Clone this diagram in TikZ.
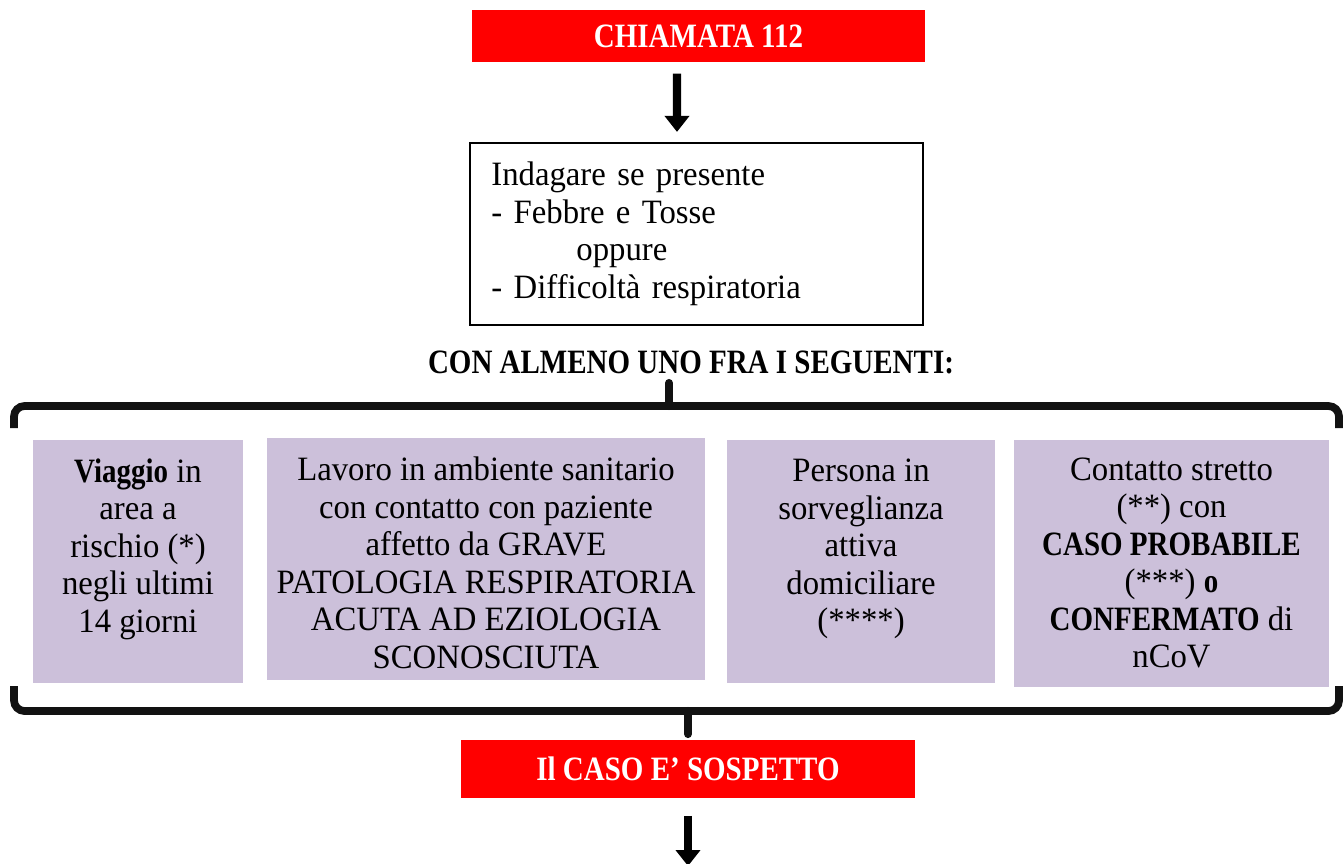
\documentclass[tikz,border=0pt]{standalone}
\usepackage{fontspec}
\setmainfont{Liberation Serif}[UprightFeatures={FakeStretch=0.96},BoldFeatures={FakeStretch=0.85}]
\usetikzlibrary{arrows.meta}
\definecolor{lilac}{RGB}{204,192,218}
\definecolor{alarm}{RGB}{255,0,0}
\newcommand{\bodyfont}{\fontsize{9.7}{10.67}\selectfont}
\begin{document}
\begin{tikzpicture}[x=0.01cm,y=-0.01cm,font=\bodyfont]
        		\tikzstyle{alert}=[fill=alarm,text=white,font=\bodyfont\bfseries,minimum width=4.53cm,minimum height=0.52cm,inner sep=0pt]
        		\tikzstyle{question}=[draw=black,line width=0.6pt,minimum width=4.53cm,minimum height=1.82cm,text width=4.1cm,align=left,inner sep=0pt]
        		\tikzstyle{criterion}=[fill=lilac,inner sep=0pt]
        		\tikzstyle{crittext}=[align=center,inner sep=0pt]
        		\tikzstyle{arrow}=[draw,line width=2.3pt,-{Triangle[width=0.24cm,length=0.16cm]}]
        		\tikzstyle{brace}=[draw=black!93,line width=2.2pt,rounded corners=3pt]
        		\tikzstyle{stub}=[draw=black!93,line width=2.3pt,line cap=round]
        		\useasboundingbox (0,0) rectangle (1343,863);
       			\begin{scope}
        			\node [alert] (call) at (698.5,36) {CHIAMATA 112};
        			\node [question] (ask) at (696.5,234) {Indagare se presente\\- Febbre e Tosse\\\hspace*{0.85cm}oppure\\- Difficoltà respiratoria};
        			\node (among) at (691,362) {\textbf{CON ALMENO UNO FRA I SEGUENTI:}};
        			\node [criterion,minimum width=2.10cm,minimum height=2.43cm] (travel) at (138,561.5) {};
        			\node [criterion,minimum width=4.38cm,minimum height=2.42cm] (work) at (486,559) {};
        			\node [criterion,minimum width=2.68cm,minimum height=2.43cm] (watch) at (861,561.5) {};
        			\node [criterion,minimum width=3.15cm,minimum height=2.47cm] (contact) at (1171.5,563.5) {};
        			\node [crittext] (travel-txt) at (138,549) {\textbf{Viaggio} in\\area a\\rischio (*)\\negli ultimi\\14 giorni};
        			\node [crittext] (work-txt) at (486,563) {Lavoro in ambiente sanitario\\con contatto con paziente\\affetto da GRAVE\\PATOLOGIA RESPIRATORIA\\ACUTA AD EZIOLOGIA\\SCONOSCIUTA};
        			\node [crittext] (watch-txt) at (861,549) {Persona in\\sorveglianza\\attiva\\domiciliare\\(****)};
        			\node [crittext] (contact-txt) at (1171.5,563) {Contatto stretto\\(**) con\\\textbf{CASO PROBABILE}\\(***) \textbf{o}\\\textbf{CONFERMATO} di\\nCoV};
        			\node [alert,minimum height=0.58cm] (suspect) at (688,769) {Il CASO E’ SOSPETTO};
        			\coordinate (next) at (688,866);
        			% braces
        			\path[brace] (14,428) -- (14,406) -- (1339,406) -- (1339,428);
        			\path[stub] (669,406) -- (669,383);
        			\path[stub,line width=1pt] (661,405) to[out=0,in=-90] (669,398) to[out=-90,in=180] (677,405);
        			\path[brace] (14,686) -- (14,711) -- (1339,711) -- (1339,686);
        			\path[stub] (688,711) -- (688,734);
        			\path[stub,line width=1pt] (680,712) to[out=0,in=90] (688,719) to[out=90,in=180] (696,712);
        			% arrows
        			\path[arrow,shorten <=0.11cm,shorten >=0.1cm] ([xshift=-0.215cm]call.south) -- ([xshift=-0.195cm]ask.north);
        			\path[arrow,shorten <=0.17cm] (suspect) -- (next);
        		\end{scope}
\end{tikzpicture}
\end{document}
